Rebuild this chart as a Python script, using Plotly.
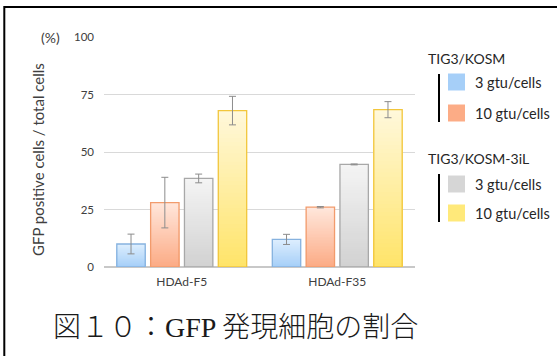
import plotly.graph_objects as go

# ---- data ----
categories = ["HDAd-F5", "HDAd-F35"]
series_names = ["KOSM 3 gtu/cells", "KOSM 10 gtu/cells", "KOSM-3iL 3 gtu/cells", "KOSM-3iL 10 gtu/cells"]
kosm_3 = [10.0, 12.0]
kosm_10 = [28.0, 26.0]
kosm3il_3 = [38.5, 44.6]
kosm3il_10 = [68.0, 68.4]
err_kosm_3 = [4.3, 2.2]
err_kosm_10 = [11.0, 0.3]
err_kosm3il_3 = [1.9, 0.2]
err_kosm3il_10 = [6.2, 3.5]
y_ticks = [0, 25, 50, 75, 100]

values = [kosm_3, kosm_10, kosm3il_3, kosm3il_10]
errors = [err_kosm_3, err_kosm_10, err_kosm3il_3, err_kosm3il_10]

# gradient top colour, bottom colour, outline colour per series
styles = [
    ("#ddeefe", "#a6cff8", "#86b2df"),
    ("#ffe6db", "#fcac86", "#f29b6c"),
    ("#f4f4f4", "#d2d2d2", "#a8a8a8"),
    ("#fff8da", "#ffe46a", "#f2c63c"),
]


def hex_to_rgb(h):
    h = h.lstrip("#")
    return tuple(int(h[i:i + 2], 16) for i in (0, 2, 4))


def mix(c1, c2, t):
    a, b = hex_to_rgb(c1), hex_to_rgb(c2)
    r = [round(a[i] + (b[i] - a[i]) * t) for i in range(3)]
    return f"rgb({r[0]},{r[1]},{r[2]})"


fig = go.Figure()
N = 40
for s, (name, vals, errs, (top, bottom, edge)) in enumerate(zip(series_names, values, errors, styles)):
    # vertical gradient: nested bars from the baseline, lightest (tallest) first
    for k in range(N):
        frac = 1 - k / N
        fig.add_trace(go.Bar(
            x=categories, y=[v * frac for v in vals], offsetgroup=str(s),
            marker=dict(color=mix(top, bottom, k / (N - 1)), line=dict(width=0)),
            showlegend=False, hoverinfo="skip",
        ))
    # outline + error bars
    fig.add_trace(go.Bar(
        x=categories, y=vals, offsetgroup=str(s), name=name,
        marker=dict(color="rgba(0,0,0,0)", line=dict(color=edge, width=1.3)),
        error_y=dict(type="data", array=errs, color="#8c8c8c", thickness=1, width=3.5),
        showlegend=False,
    ))

W, H = 557, 356
L, R, T, B = 104, 142, 37, 89
pw, ph = W - L - R, H - T - B


def px(x):
    return (x - L) / pw


def py(y):
    return (H - B - y) / ph


font_ui = "Lato, 'Open Sans', sans-serif"
annotations = [
    dict(text="(%)", x=px(50.5), y=py(37.5), xref="paper", yref="paper", showarrow=False,
         font=dict(family=font_ui, size=14, color="#404040"), xanchor="center", yanchor="middle"),
    dict(text="GFP positive cells / total cells", x=px(38), y=py(160), xref="paper", yref="paper",
         showarrow=False, textangle=-90, font=dict(family=font_ui, size=15, color="#404040"),
         xanchor="center", yanchor="middle"),
    dict(text="TIG3/KOSM", x=px(426), y=py(58), xref="paper", yref="paper", showarrow=False,
         font=dict(family=font_ui, size=14, color="#262626"), xanchor="left", yanchor="middle"),
    dict(text="TIG3/KOSM-3iL", x=px(426), y=py(158), xref="paper", yref="paper", showarrow=False,
         font=dict(family=font_ui, size=14, color="#262626"), xanchor="left", yanchor="middle"),
    dict(text="図１０：GFP 発現細胞の割合", x=px(51), y=py(327), xref="paper", yref="paper",
         showarrow=False,
         font=dict(family="'Liberation Serif', 'Noto Sans CJK JP', serif", size=28, color="#1a1a1a", weight=300),
         xanchor="left", yanchor="middle"),
]

legend_items = [
    ("3 gtu/cells", styles[0][1], 82),
    ("10 gtu/cells", styles[1][1], 113),
    ("3 gtu/cells", "#d6d6d6", 184),
    ("10 gtu/cells", "#ffe97a", 213),
]
shapes = [
    # outer frame
    dict(type="rect", xref="paper", yref="paper", x0=px(4.3), x1=px(W + 10), y0=py(H + 10), y1=py(7),
         line=dict(color="black", width=2), fillcolor="rgba(0,0,0,0)", layer="above"),
    # group brackets
    dict(type="line", xref="paper", yref="paper", x0=px(439), x1=px(439), y0=py(74), y1=py(122),
         line=dict(color="black", width=2)),
    dict(type="line", xref="paper", yref="paper", x0=px(439), x1=px(439), y0=py(174), y1=py(222),
         line=dict(color="black", width=2)),
]
for label, color, yc in legend_items:
    shapes.append(dict(type="rect", xref="paper", yref="paper", x0=px(448), x1=px(465),
                       y0=py(yc + 8.5), y1=py(yc - 8.5), fillcolor=color, line=dict(width=0)))
    annotations.append(dict(text=label, x=px(473), y=py(yc), xref="paper", yref="paper", showarrow=False,
                            font=dict(family=font_ui, size=14.5, color="#262626"),
                            xanchor="left", yanchor="middle"))

fig.update_layout(
    width=W, height=H,
    margin=dict(l=L, r=R, t=T, b=B),
    paper_bgcolor="white", plot_bgcolor="white",
    barmode="group", bargap=0.13, bargroupgap=0.16,
    showlegend=False,
    annotations=annotations, shapes=shapes,
    xaxis=dict(showgrid=False, showline=False, ticks="", tickfont=dict(family=font_ui, size=12, color="#404040"),
               ticklabelstandoff=6, fixedrange=True),
    yaxis=dict(range=[0, 100], tickvals=y_ticks, showgrid=True, gridcolor="#d9d9d9", gridwidth=1,
               zeroline=True, zerolinecolor="#c8c8c8", zerolinewidth=1.5, showline=False, ticks="",
               ticklabelstandoff=9, tickfont=dict(family=font_ui, size=11.5, color="#404040"), fixedrange=True),
)

fig.write_html("out.html")
